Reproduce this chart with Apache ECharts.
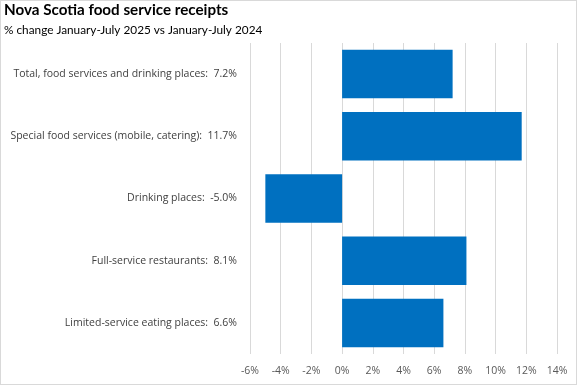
<!DOCTYPE html>
<html><head><meta charset="utf-8">
<script src="https://cdn.jsdelivr.net/npm/echarts@6/dist/echarts.min.js"></script>
<style>html,body{margin:0;padding:0;background:#fff}#c{width:577px;height:385px;box-sizing:border-box;border:1px solid #d9d9d9}</style>
</head><body><div id="c"></div>
<script>
const categories = [
  "Total, food services and drinking places:  7.2%",
  "Special food services (mobile, catering):  11.7%",
  "Drinking places:  -5.0%",
  "Full-service restaurants:  8.1%",
  "Limited-service eating places:  6.6%"
];
const values = [7.2, 11.7, -5.0, 8.1, 6.6];
const xMin = -6, xMax = 14, xStep = 2;

const chart = echarts.init(document.getElementById('c'), null, {renderer:'canvas'});
chart.setOption({
  animation: false,
  title: [
    {text: 'Nova Scotia food service receipts', left: 3, top: 2, padding: 0,
     textStyle: {fontFamily: 'Lato', fontWeight: 'bold', fontSize: 15.2, color: '#000'}},
    {text: '% change January-July 2025 vs January-July 2024', left: 3, top: 23, padding: 0,
     textStyle: {fontFamily: 'Lato', fontWeight: 'normal', fontSize: 11.8, color: '#000'}}
  ],
  grid: {left: 249, right: 19, top: 42, bottom: 30, containLabel: false},
  xAxis: {
    type: 'value', min: xMin, max: xMax, interval: xStep,
    axisLabel: {formatter: v => v + '%', fontFamily: 'Open Sans', fontSize: 10.5, color: '#595959', margin: 12},
    axisLine: {show: false}, axisTick: {show: false},
    splitLine: {show: true, lineStyle: {color: '#d9d9d9', width: 1}}
  },
  yAxis: {
    type: 'category', data: categories, inverse: true,
    axisLine: {show: false}, axisTick: {show: false},
    axisLabel: {fontFamily: 'Open Sans', fontSize: 10.5, color: '#404040', margin: 13}
  },
  series: [{
    type: 'bar', data: values, barCategoryGap: '22%',
    itemStyle: {color: '#0070C0'}
  }]
});
</script></body></html>
